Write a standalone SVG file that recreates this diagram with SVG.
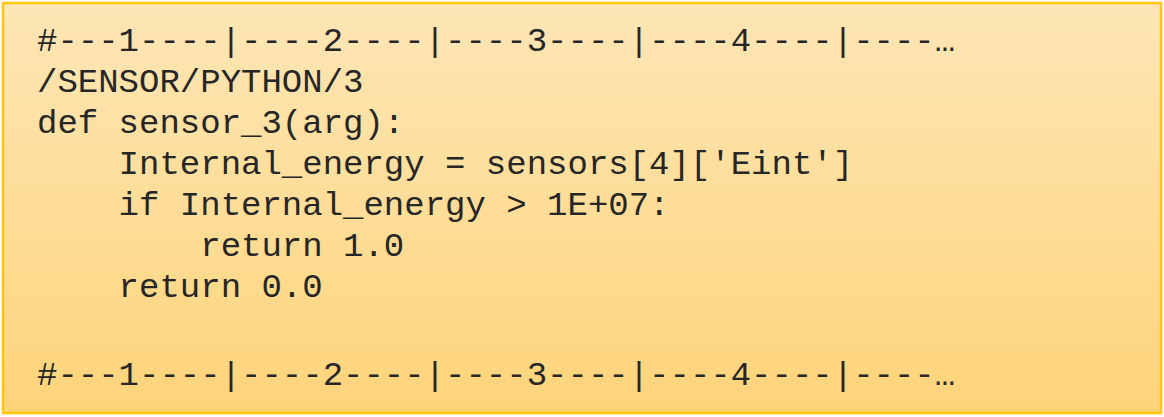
<svg xmlns="http://www.w3.org/2000/svg" width="1164" height="417" viewBox="0 0 1164 417">
<defs>
<linearGradient id="g" x1="0" y1="0" x2="0" y2="1">
<stop offset="0" stop-color="#FDE6B6"/>
<stop offset="1" stop-color="#FED47A"/>
</linearGradient>
<style>
.c{font-family:"Liberation Mono","Courier New",monospace;font-size:34px;fill:#262626;white-space:pre}
</style>
</defs>
<g id="box">
<rect x="3" y="3" width="1158" height="410" fill="url(#g)" stroke="#FFC40C" stroke-width="2.5"/>
</g>
<g id="code">
<text class="c" x="37" y="51" xml:space="preserve">#---1----|----2----|----3----|----4----|----…</text>
<text class="c" x="37" y="92" xml:space="preserve">/SENSOR/PYTHON/3</text>
<text class="c" x="37" y="133" xml:space="preserve">def sensor_3(arg):</text>
<text class="c" x="37" y="174" xml:space="preserve">    Internal_energy = sensors[4]['Eint']</text>
<text class="c" x="37" y="215" xml:space="preserve">    if Internal_energy &gt; 1E+07:</text>
<text class="c" x="37" y="256" xml:space="preserve">        return 1.0</text>
<text class="c" x="37" y="297" xml:space="preserve">    return 0.0</text>
<text class="c" x="37" y="385" xml:space="preserve">#---1----|----2----|----3----|----4----|----…</text>
</g>
<g id="connectors"/>
</svg>
